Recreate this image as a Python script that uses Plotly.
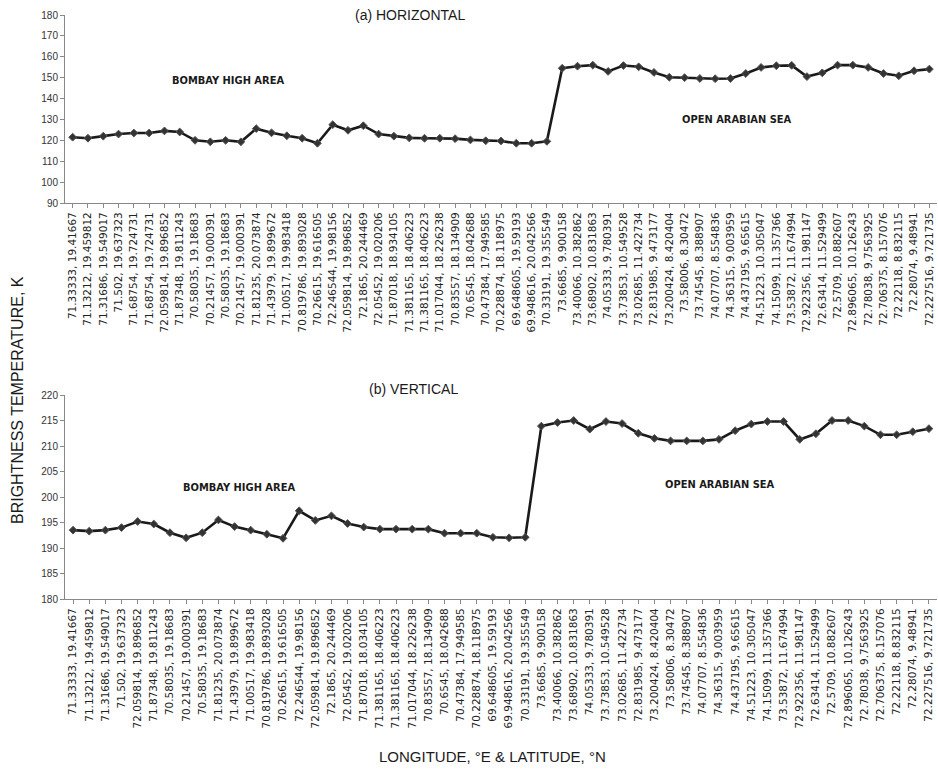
import plotly.graph_objects as go

# ---------------- data ----------------
labels_h = [
    "71.33333, 19.41667", "71.13212, 19.459812", "71.31686, 19.549017", "71.502, 19.637323",
    "71.68754, 19.724731", "71.68754, 19.724731", "72.059814, 19.896852", "71.87348, 19.811243",
    "70.58035, 19.18683", "70.21457, 19.000391", "70.58035, 19.18683", "70.21457, 19.000391",
    "71.81235, 20.073874", "71.43979, 19.899672", "71.00517, 19.983418", "70.819786, 19.893028",
    "70.26615, 19.616505", "72.246544, 19.98156", "72.059814, 19.896852", "72.1865, 20.244469",
    "72.05452, 19.020206", "71.87018, 18.934105", "71.381165, 18.406223", "71.381165, 18.406223",
    "71.017044, 18.226238", "70.83557, 18.134909", "70.6545, 18.042688", "70.47384, 17.949585",
    "70.228874, 18.118975", "69.648605, 19.59193", "69.948616, 20.042566", "70.33191, 19.355549",
    "73.6685, 9.900158", "73.40066, 10.382862", "73.68902, 10.831863", "74.05333, 9.780391",
    "73.73853, 10.549528", "73.02685, 11.422734", "72.831985, 9.473177", "73.200424, 8.420404",
    "73.58006, 8.30472", "73.74545, 8.388907", "74.07707, 8.554836", "74.36315, 9.003959",
    "74.437195, 9.65615", "74.51223, 10.305047", "74.15099, 11.357366", "73.53872, 11.674994",
    "72.922356, 11.981147", "72.63414, 11.529499", "72.5709, 10.882607", "72.896065, 10.126243",
    "72.78038, 9.7563925", "72.706375, 8.157076", "72.22118, 8.832115", "72.28074, 9.48941",
    "72.227516, 9.721735",
]
values_h = [
    121.5, 121.0, 122.0, 123.0, 123.5, 123.5, 124.5, 124.0, 120.0, 119.3,
    120.0, 119.3, 125.6, 123.6, 122.2, 121.0, 118.6, 127.5, 124.8, 127.0,
    123.0, 122.0, 121.2, 121.0, 121.0, 120.8, 120.2, 119.8, 119.7, 118.6,
    118.6, 119.5, 154.5, 155.5, 156.0, 153.0, 155.8, 155.2, 152.5, 150.2,
    150.0, 149.6, 149.5, 149.6, 152.0, 154.9, 155.7, 155.9, 150.5, 152.3,
    156.0, 156.0, 154.9, 152.0, 150.9, 153.3, 154.1,
]

labels_v = [
    "71.33333, 19.41667", "71.13212, 19.459812", "71.31686, 19.549017", "71.502, 19.637323",
    "72.059814, 19.896852", "71.87348, 19.811243", "70.58035, 19.18683", "70.21457, 19.000391",
    "70.58035, 19.18683", "71.81235, 20.073874", "71.43979, 19.899672", "71.00517, 19.983418",
    "70.819786, 19.893028", "70.26615, 19.616505", "72.246544, 19.98156", "72.059814, 19.896852",
    "72.1865, 20.244469", "72.05452, 19.020206", "71.87018, 18.034105", "71.381165, 18.406223",
    "71.381165, 18.406223", "71.017044, 18.226238", "70.83557, 18.134909", "70.6545, 18.042688",
    "70.47384, 17.949585", "70.228874, 18.118975", "69.648605, 19.59193", "69.948616, 20.042566",
    "70.33191, 19.355549", "73.6685, 9.900158", "73.40066, 10.382862", "73.68902, 10.831863",
    "74.05333, 9.780391", "73.73853, 10.549528", "73.02685, 11.422734", "72.831985, 9.473177",
    "73.200424, 8.420404", "73.58006, 8.30472", "73.74545, 8.388907", "74.07707, 8.554836",
    "74.36315, 9.003959", "74.437195, 9.65615", "74.51223, 10.305047", "74.15099, 11.357366",
    "73.53872, 11.674994", "72.922356, 11.981147", "72.63414, 11.529499", "72.5709, 10.882607",
    "72.896065, 10.126243", "72.78038, 9.7563925", "72.706375, 8.157076", "72.22118, 8.832115",
    "72.28074, 9.48941", "72.227516, 9.721735",
]
values_v = [
    193.5, 193.3, 193.5, 194.0, 195.2, 194.7, 193.0, 192.0, 193.0, 195.5,
    194.2, 193.5, 192.7, 191.9, 197.3, 195.4, 196.3, 194.8, 194.1, 193.7,
    193.7, 193.7, 193.7, 192.9, 192.9, 192.9, 192.1, 192.0, 192.1, 213.9,
    214.6, 215.0, 213.3, 214.8, 214.4, 212.5, 211.5, 211.0, 211.0, 211.0,
    211.3, 213.0, 214.3, 214.8, 214.8, 211.3, 212.4, 215.0, 215.0, 213.9,
    212.2, 212.2, 212.8, 213.4,
]

ticks_h = list(range(90, 181, 10))
ticks_v = list(range(180, 221, 5))

W, H = 938, 772
ML, MR = 65, 1

x_h = list(range(len(values_h)))
x_v = list(range(len(values_v)))

fig = go.Figure()

line_style = dict(color="#1a1a1a", width=2.6)
marker_style = dict(symbol="diamond", size=6, color="#333333",
                    line=dict(color="#555555", width=1))

fig.add_trace(go.Scatter(x=x_h, y=values_h, mode="lines+markers",
                         line=line_style, marker=marker_style,
                         xaxis="x", yaxis="y", showlegend=False))
fig.add_trace(go.Scatter(x=x_v, y=values_v, mode="lines+markers",
                         line=line_style, marker=marker_style,
                         xaxis="x2", yaxis="y2", showlegend=False))


def px_dom(top, bottom):
    return [1 - bottom / H, 1 - top / H]


tickfont = dict(family="DejaVu Sans", size=10.5, color="#222222")
yfont = dict(family="Liberation Sans", size=10, color="#333333")

common_x = dict(showgrid=False, zeroline=False, showline=True, linecolor="#888888",
                linewidth=1, ticks="outside", ticklen=4, tickcolor="#888888",
                tickangle=-90, tickfont=tickfont, automargin=False, tickmode="array")
common_y = dict(showgrid=False, zeroline=False, showline=True, linecolor="#888888",
                linewidth=1, ticks="outside", ticklen=4, tickcolor="#888888",
                tickfont=yfont, automargin=False, tickmode="array")

fig.update_layout(
    width=W, height=H,
    template="none",
    paper_bgcolor="white", plot_bgcolor="white",
    margin=dict(l=ML, r=MR, t=0, b=0),
    hovermode=False,
    xaxis=dict(domain=[0, 1], anchor="y", range=[-0.5, len(values_h) - 0.5],
               tickvals=x_h, ticktext=labels_h, **common_x),
    yaxis=dict(domain=px_dom(15, 203), anchor="x", range=[90, 180],
               tickvals=ticks_h, **common_y),
    xaxis2=dict(domain=[0, 1], anchor="y2", range=[-0.5, len(values_v) - 0.5],
                tickvals=x_v, ticktext=labels_v, **common_x),
    yaxis2=dict(domain=px_dom(395, 599), anchor="x2", range=[180, 220],
                tickvals=ticks_v, **common_y),
)


def ann_px(text, xp, yp, size, family="Liberation Sans", bold=False, angle=0,
           color="#1a1a1a"):
    fx = (xp - ML) / (W - ML - MR)
    fy = 1 - yp / H
    fig.add_annotation(text=("<b>%s</b>" % text) if bold else text,
                       x=fx, y=fy, xref="paper", yref="paper",
                       showarrow=False, textangle=angle,
                       xanchor="center", yanchor="middle",
                       font=dict(family=family, size=size, color=color))


cond = "DejaVu Sans Condensed"
ann_px("(a) HORIZONTAL", 410, 15, 14)
ann_px("(b) VERTICAL", 413, 389, 14)
ann_px("BOMBAY HIGH AREA", 228, 80, 11, family=cond, bold=True)
ann_px("OPEN ARABIAN SEA", 737, 119, 11, family=cond, bold=True)
ann_px("BOMBAY HIGH AREA", 239, 487, 11, family=cond, bold=True)
ann_px("OPEN ARABIAN SEA", 720, 484, 11, family=cond, bold=True)
ann_px("LONGITUDE, °E &amp; LATITUDE, °N", 492, 756, 15)
ann_px("BRIGHTNESS TEMPERATURE, K", 18, 400, 16, angle=-90)

fig.write_html("out.html",
               config={"displayModeBar": False, "staticPlot": True},
               post_script="document.body.style.margin='0';document.body.style.overflow='hidden';")
